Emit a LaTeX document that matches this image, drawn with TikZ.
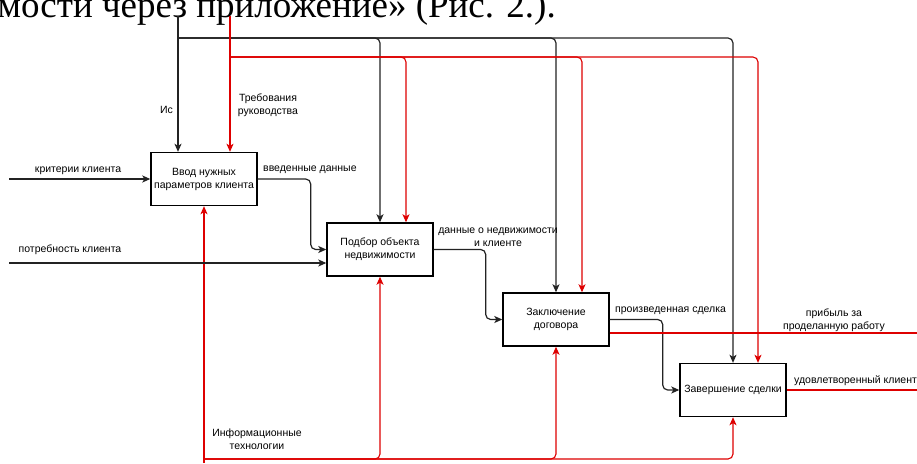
\documentclass[tikz,border=0pt]{standalone}
\usepackage{fontspec}
\setmainfont{Liberation Sans}
\newfontfamily\docserif{Liberation Serif}
\usetikzlibrary{arrows.meta}
\definecolor{rl}{RGB}{222,0,0}
\definecolor{bl}{RGB}{35,35,35}
\tikzset{
  box/.style={draw=black, line width=1.4pt, minimum width=106pt, minimum height=53pt,
    inner sep=0pt, align=center, font=\fontsize{10.5}{13}\selectfont},
  tip/.style={-{Stealth[length=8pt,width=7pt,inset=2pt]}},
  blk/.style={draw=bl, line width=1.2pt, rounded corners=5pt, tip},
  rd/.style={draw=rl, line width=1.1pt, rounded corners=5pt, tip},
  rdline/.style={draw=rl, line width=1.1pt},
  lbl/.style={font=\fontsize{10.5}{12.5}\selectfont, inner sep=0pt, align=center},
}
\begin{document}
\begin{tikzpicture}[x=1pt,y=-1pt]
\useasboundingbox (0,0) rectangle (917,463);
\fill[white] (0,0) rectangle (917,463);

% cropped caption line from the surrounding document
\node[anchor=base east, font=\docserif\fontsize{37}{44}\selectfont, inner sep=0pt] (cap) at (556,17) {мости через приложение» (Рис. 2.).};

% boxes
\node[box] (b1) at (204,179) {Ввод нужных\\параметров клиента};
\node[box] (b2) at (380,249.5) {Подбор объекта\\недвижимости};
\node[box] (b3) at (556,319.5) {Заключение\\договора};
\node[box] (b4) at (733,390) {Завершение сделки};

% controls (black)
\coordinate (cs) at (178,16);
\coordinate (cj) at (178,38);
\draw[blk] (cs) -- (b1.north -| cs);
\draw[blk] (cj) -| (b2.north);
\draw[blk] (cj) -| (b3.north);
\draw[blk] (cj) -| (b4.north);

% controls (red)
\coordinate (rs) at (230,16);
\coordinate (rj) at (230,57);
\draw[rd] (rs) -- (b1.north -| rs);
\draw[rd] (rj) -| ([xshift=26pt]b2.north);
\draw[rd] (rj) -| ([xshift=26pt]b3.north);
\draw[rd] (rj) -| ([xshift=25pt]b4.north);

% mechanisms (red, from bottom)
\coordinate (ms) at (204,463);
\coordinate (mj) at (204,459);
\draw[rd] (ms) -- (b1.south);
\draw[rd] (mj) -| (b2.south);
\draw[rd] (mj) -| (b3.south);
\draw[rd] (mj) -| (b4.south);

% inputs
\coordinate (i1) at (9,179);
\coordinate (i2) at (9,263);
\draw[blk] (i1) -- (b1.west);
\draw[blk] (i2) -- (i2 -| b2.west);

% flows between boxes
\draw[blk] (b1.east) -- ++(53,0) |- (b2.west);
\draw[blk] (b2.east) -- ++(52,0) |- (b3.west);
\draw[blk] (b3.east) -- ++(53,0) |- (b4.west);

% outputs (red)
\coordinate (o1) at (917,333);
\coordinate (o2) at (917,390);
\draw[rdline] (b3.east |- o1) -- (o1);
\draw[rdline] (b4.east) -- (o2);

% labels
\node[lbl, anchor=east] (lis) at (173,110) {Ис};
\node[lbl] (ltr) at (268,105) {Требования\\руководства};
\node[lbl] (lkr) at (78,171) {критерии клиента};
\node[lbl] (lpo) at (70,250) {потребность клиента};
\node[lbl, anchor=west] (lvv) at (263,170) {введенные данные};
\node[lbl] (ldn) at (498,237) {данные о недвижимости\\и клиенте};
\node[lbl, anchor=west] (lps) at (615,311) {произведенная сделка};
\node[lbl] (lpr) at (834,320) {прибыль за\\проделанную работу};
\node[lbl, anchor=west] (lud) at (794,381) {удовлетворенный клиент};
\node[lbl] (lit) at (257,439) {Информационные\\технологии};
\end{tikzpicture}
\end{document}
